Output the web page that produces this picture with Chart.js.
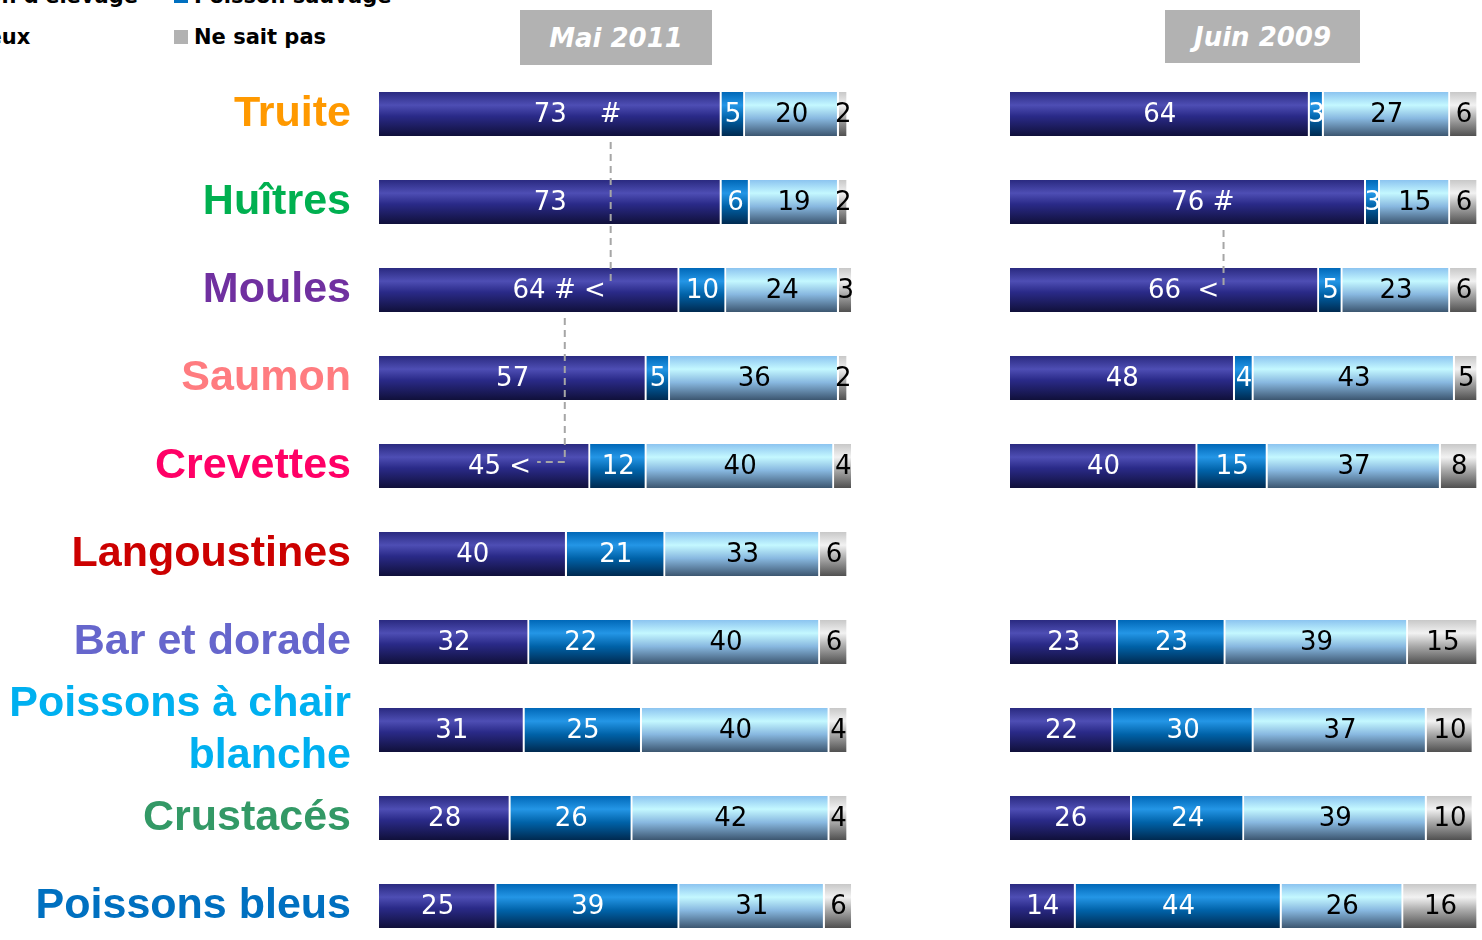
<!DOCTYPE html>
<html lang="fr">
<head>
<meta charset="utf-8">
<title>Poisson d'élevage / Poisson sauvage</title>
<script src="https://cdn.jsdelivr.net/npm/chart.js@4.4.1/dist/chart.umd.min.js"></script>
<style>
  html, body { margin: 0; padding: 0; background: #fff; }
  body { position: relative; width: 1482px; height: 940px; overflow: hidden; }
  canvas { position: absolute; top: 0; }
  #chartMai { left: 0; }
  #chartJuin { left: 1000px; }
  .periode {
    position: absolute; top: 10px; height: 55px; background: #b2b2b2;
    color: #fff; font: italic bold 26px "DejaVu Sans", sans-serif;
    display: flex; align-items: center; justify-content: center;
  }
  .legende {
    position: absolute; font: bold 21px "DejaVu Sans", sans-serif; color: #000;
    white-space: nowrap; display: flex; align-items: center; height: 24px;
  }
  .legende i { display: inline-block; width: 14px; height: 14px; margin-right: 6px; }
</style>
</head>
<body>
<div class="legende" style="left:-95px; top:-16px;"><i style="background:#2e2e8a"></i>Poisson d'élevage</div>
<div class="legende" style="left:174px; top:-16px;"><i style="background:#0070c0"></i>Poisson sauvage</div>
<div class="legende" style="left:-95px; top:25px;"><i style="background:#99ccff"></i>Les deux</div>
<div class="legende" style="left:174px; top:25px;"><i style="background:#b2b2b2"></i>Ne sait pas</div>

<div class="periode" style="left:520px; width:192px;">Mai 2011</div>
<div class="periode" style="left:1165px; width:195px; height:53px;">Juin 2009</div>

<canvas id="chartMai" width="860" height="960"></canvas>
<canvas id="chartJuin" width="482" height="960"></canvas>

<script>
// ------------------------------------------------------
// Données
// ------------------------------------------------------
const categories = [
  "Truite", "Huîtres", "Moules", "Saumon", "Crevettes", "Langoustines",
  "Bar et dorade", ["Poissons à chair", "blanche"], "Crustacés", "Poissons bleus",
];
const couleursCategories = [
  "#ff9900", "#00b050", "#7030a0", "#ff7c80", "#ff0066", "#cc0000",
  "#6666cc", "#00b0f0", "#339966", "#0070c0",
];
const series = ["Poisson d'élevage", "Poisson sauvage", "Les deux", "Ne sait pas"];

// Mai 2011
const maiElevage = [73, 73, 64, 57, 45, 40, 32, 31, 28, 25];
const maiSauvage = [5, 6, 10, 5, 12, 21, 22, 25, 26, 39];
const maiDeux = [20, 19, 24, 36, 40, 33, 40, 40, 42, 31];
const maiNsp = [2, 2, 3, 2, 4, 6, 6, 4, 4, 6];
const maiMarques = ["   #", "", "# <", "", "<", "", "", "", "", ""];

// Juin 2009 (pas de langoustines)
const juinElevage = [64, 76, 66, 48, 40, null, 23, 22, 26, 14];
const juinSauvage = [3, 3, 5, 4, 15, null, 23, 30, 24, 44];
const juinDeux = [27, 15, 23, 43, 37, null, 39, 37, 39, 26];
const juinNsp = [6, 6, 6, 5, 8, null, 15, 10, 10, 16];
const juinMarques = ["", "#", " <", "", "", "", "", "", "", ""];

// ------------------------------------------------------
// Styles
// ------------------------------------------------------
const DEGRADES = [
  [[0, "#2a2a80"], [0.3, "#4e4eb4"], [0.55, "#2a2a88"], [1, "#10103a"]],
  [[0, "#0068b8"], [0.3, "#2496e6"], [0.6, "#0062a8"], [1, "#002a50"]],
  [[0, "#8cc4f0"], [0.3, "#c4f8ff"], [0.6, "#88b8e0"], [1, "#3c5670"]],
  [[0, "#c8c8c8"], [0.3, "#f2f2f2"], [0.6, "#a8a8a8"], [1, "#505050"]],
];
const COULEURS_TEXTE = ["#fff", "#fff", "#000", "#000"];
const EPAISSEUR = 44;

function degrade(c) {
  const chart = c.chart;
  const stops = DEGRADES[c.datasetIndex];
  const y = chart.scales && chart.scales.y;
  if (!y || !chart.chartArea) return stops[1][1];
  const yc = y.getPixelForValue(c.dataIndex);
  const g = chart.ctx.createLinearGradient(0, yc - EPAISSEUR / 2, 0, yc + EPAISSEUR / 2);
  stops.forEach(([o, col]) => g.addColorStop(o, col));
  return g;
}

function jeuxDeDonnees(valeurs) {
  return valeurs.map((data, i) => ({
    label: series[i],
    data,
    backgroundColor: degrade,
    borderColor: "#fff",
    borderWidth: { top: 0, bottom: 0, left: 0, right: 2 },
    borderSkipped: false,
    barThickness: EPAISSEUR,
    clip: false,
  }));
}

// Étiquettes des segments + traits pointillés entre "#" et "<"
const etiquettes = {
  id: "etiquettes",
  afterDatasetsDraw(chart, args, opts) {
    const ctx = chart.ctx;
    const marques = opts.marques || [];
    const posHash = {};
    const posInf = {};
    ctx.save();
    ctx.font = "26px 'DejaVu Sans', Verdana, sans-serif";
    ctx.textBaseline = "middle";
    chart.data.datasets.forEach((ds, di) => {
      const meta = chart.getDatasetMeta(di);
      meta.data.forEach((el, i) => {
        const v = ds.data[i];
        if (v == null) return;
        const cx = (el.x + el.base) / 2;
        const txt = String(v);
        ctx.fillStyle = COULEURS_TEXTE[di];
        ctx.textAlign = "center";
        ctx.fillText(txt, cx, el.y + 1);
        if (di === 0 && marques[i]) {
          const m = marques[i];
          let x = cx + ctx.measureText(txt).width / 2 + ctx.measureText(" ").width;
          ctx.textAlign = "left";
          ctx.fillText(m, x, el.y + 1);
          for (let k = 0; k < m.length; k++) {
            const w = ctx.measureText(m[k]).width;
            if (m[k] === "#") posHash[i] = { x: x + w / 2, y: el.y };
            if (m[k] === "<") posInf[i] = { x: x + w, y: el.y };
            x += w;
          }
        }
      });
    });
    // traits
    ctx.strokeStyle = "#a6a6a6";
    ctx.lineWidth = 2;
    ctx.setLineDash([7, 5]);
    Object.keys(posHash).forEach((k) => {
      const i = Number(k);
      const cible = Object.keys(posInf).map(Number).filter((j) => j > i).sort((a, b) => a - b)[0];
      if (cible === undefined) return;
      const a = posHash[i];
      const b = posInf[cible];
      ctx.beginPath();
      ctx.moveTo(a.x, a.y + EPAISSEUR / 2 + 6);
      ctx.lineTo(a.x, b.y - 4);
      if (a.x - b.x > 12) ctx.lineTo(b.x + 6, b.y - 4);
      ctx.stroke();
    });
    ctx.restore();
  },
};

function options(avecEtiquettesY, marques, padding) {
  return {
    indexAxis: "y",
    responsive: false,
    animation: false,
    devicePixelRatio: 1,
    layout: { padding },
    plugins: {
      legend: { display: false },
      tooltip: { enabled: false },
      etiquettes: { marques },
    },
    scales: {
      x: { stacked: true, min: 0, max: 100, display: false },
      y: {
        stacked: true,
        display: avecEtiquettesY,
        grid: { display: false, drawTicks: false },
        border: { display: false },
        afterFit: (scale) => {
          if (!avecEtiquettesY) return;
          scale.width = 379;
          scale.paddingTop = 0;
          scale.paddingBottom = 0;
        },
        ticks: {
          autoSkip: false,
          padding: 28,
          color: (c) => couleursCategories[c.index],
          font: { family: "'Liberation Sans', Arial, sans-serif", size: 43, weight: "bold", lineHeight: 1.2 },
        },
      },
    },
  };
}

new Chart(document.getElementById("chartMai"), {
  type: "bar",
  data: { labels: categories, datasets: jeuxDeDonnees([maiElevage, maiSauvage, maiDeux, maiNsp]) },
  options: options(true, maiMarques, { top: 70, bottom: 10, left: 0, right: 12 }),
  plugins: [etiquettes],
});

new Chart(document.getElementById("chartJuin"), {
  type: "bar",
  data: { labels: categories, datasets: jeuxDeDonnees([juinElevage, juinSauvage, juinDeux, juinNsp]) },
  options: options(false, juinMarques, { top: 70, bottom: 10, left: 10, right: 4 }),
  plugins: [etiquettes],
});
</script>
</body>
</html>
